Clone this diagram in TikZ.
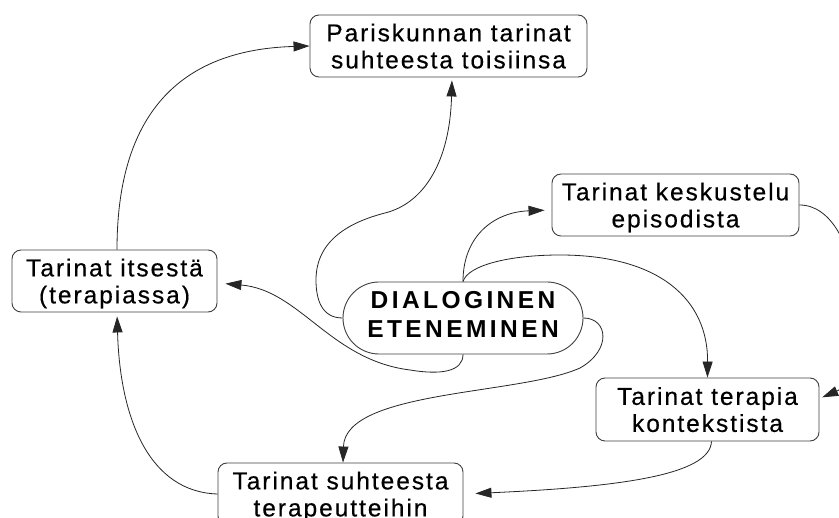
\documentclass[tikz,border=0pt]{standalone}
\usepackage{fontspec}
\setmainfont{Liberation Sans}
\newfontfamily\boxfont[LetterSpace=8,FakeBold=0.4]{Liberation Sans}
\newfontfamily\diafont[LetterSpace=14]{Liberation Sans}
\usetikzlibrary{arrows.meta,shapes.misc}
\begin{document}
\begin{tikzpicture}[x=1pt,y=-1pt,
  box/.style={draw=black!75, line width=0.9pt, rounded corners=9pt, minimum height=62pt,
    inner sep=0pt, align=center, font=\boxfont\fontsize{24.5}{27}\selectfont, text depth=0pt},
  diabox/.style={draw=black!75, line width=0.9pt, rounded rectangle, minimum width=240pt,
    minimum height=72pt, inner sep=0pt, align=center,
    font=\diafont\bfseries\fontsize{24.5}{29}\selectfont, text depth=7pt},
  conn/.style={draw=black!85, line width=0.8pt, -{Triangle[length=16pt,width=10pt]}}]
\useasboundingbox (0,0) rectangle (839,518);
\clip (0,0) rectangle (839,518);
\fill[white] (0,0) rectangle (839,518);
\node[box, minimum width=277pt] (pari) at (448.5,46) {Pariskunnan tarinat\\suhteesta toisiinsa};
\node[box, minimum width=247pt] (kes) at (675.5,205) {Tarinat keskustelu\\episodista};
\node[box, minimum width=223pt, minimum height=63pt] (ter) at (707.5,409.5) {Tarinat terapia\\kontekstista};
\node[box, minimum width=205pt] (itse) at (114.5,281) {Tarinat itsestä\\(terapiassa)};
\node[box, minimum width=245pt] (suh) at (340.5,494) {Tarinat suhteesta\\terapeutteihin};
\node[diabox] (dia) at (463,318) {DIALOGINEN\\ETENEMINEN};
% connectors
\draw[conn] ([xshift=2.5pt]itse.north) .. controls (117,125) and (170,50) .. (pari.west);
\draw[conn, shorten >=3pt] (dia.west) .. controls (322,318) and (316,300) .. (316,280)
  .. controls (316,240) and (350,222) .. (385,213)
  .. controls (425,203) and (450,160) .. ([xshift=3.5pt]pari.south);
\draw[conn, shorten >=7pt] (dia.north) .. controls (463,235) and (495,212) .. ([yshift=-5pt]kes.west);
\draw[conn] (dia.north) .. controls (468,265) and (510,255) .. (560,255)
  .. controls (660,255) and (708,300) .. (ter.north);
\draw[conn, shorten >=8pt] (dia.south) .. controls (463,372) and (440,375) .. (410,370)
  .. controls (330,360) and (300,290) .. ([yshift=-2pt]itse.east);
\draw[conn] (dia.east) .. controls (608,318) and (612,350) .. (580,368)
  .. controls (520,395) and (345,390) .. ([xshift=2.5pt]suh.north);
\draw[conn, shorten >=4pt] (suh.west) .. controls (150,492) and (120,420) .. ([xshift=2.5pt]itse.south);
\draw[conn, shorten >=3pt] (kes.east) .. controls (865,205) and (875,375) .. ([yshift=11pt]ter.east);
\draw[conn, shorten >=12pt] ([xshift=4pt]ter.south) .. controls (710,475) and (620,487) .. (suh.east);
\end{tikzpicture}
\end{document}
